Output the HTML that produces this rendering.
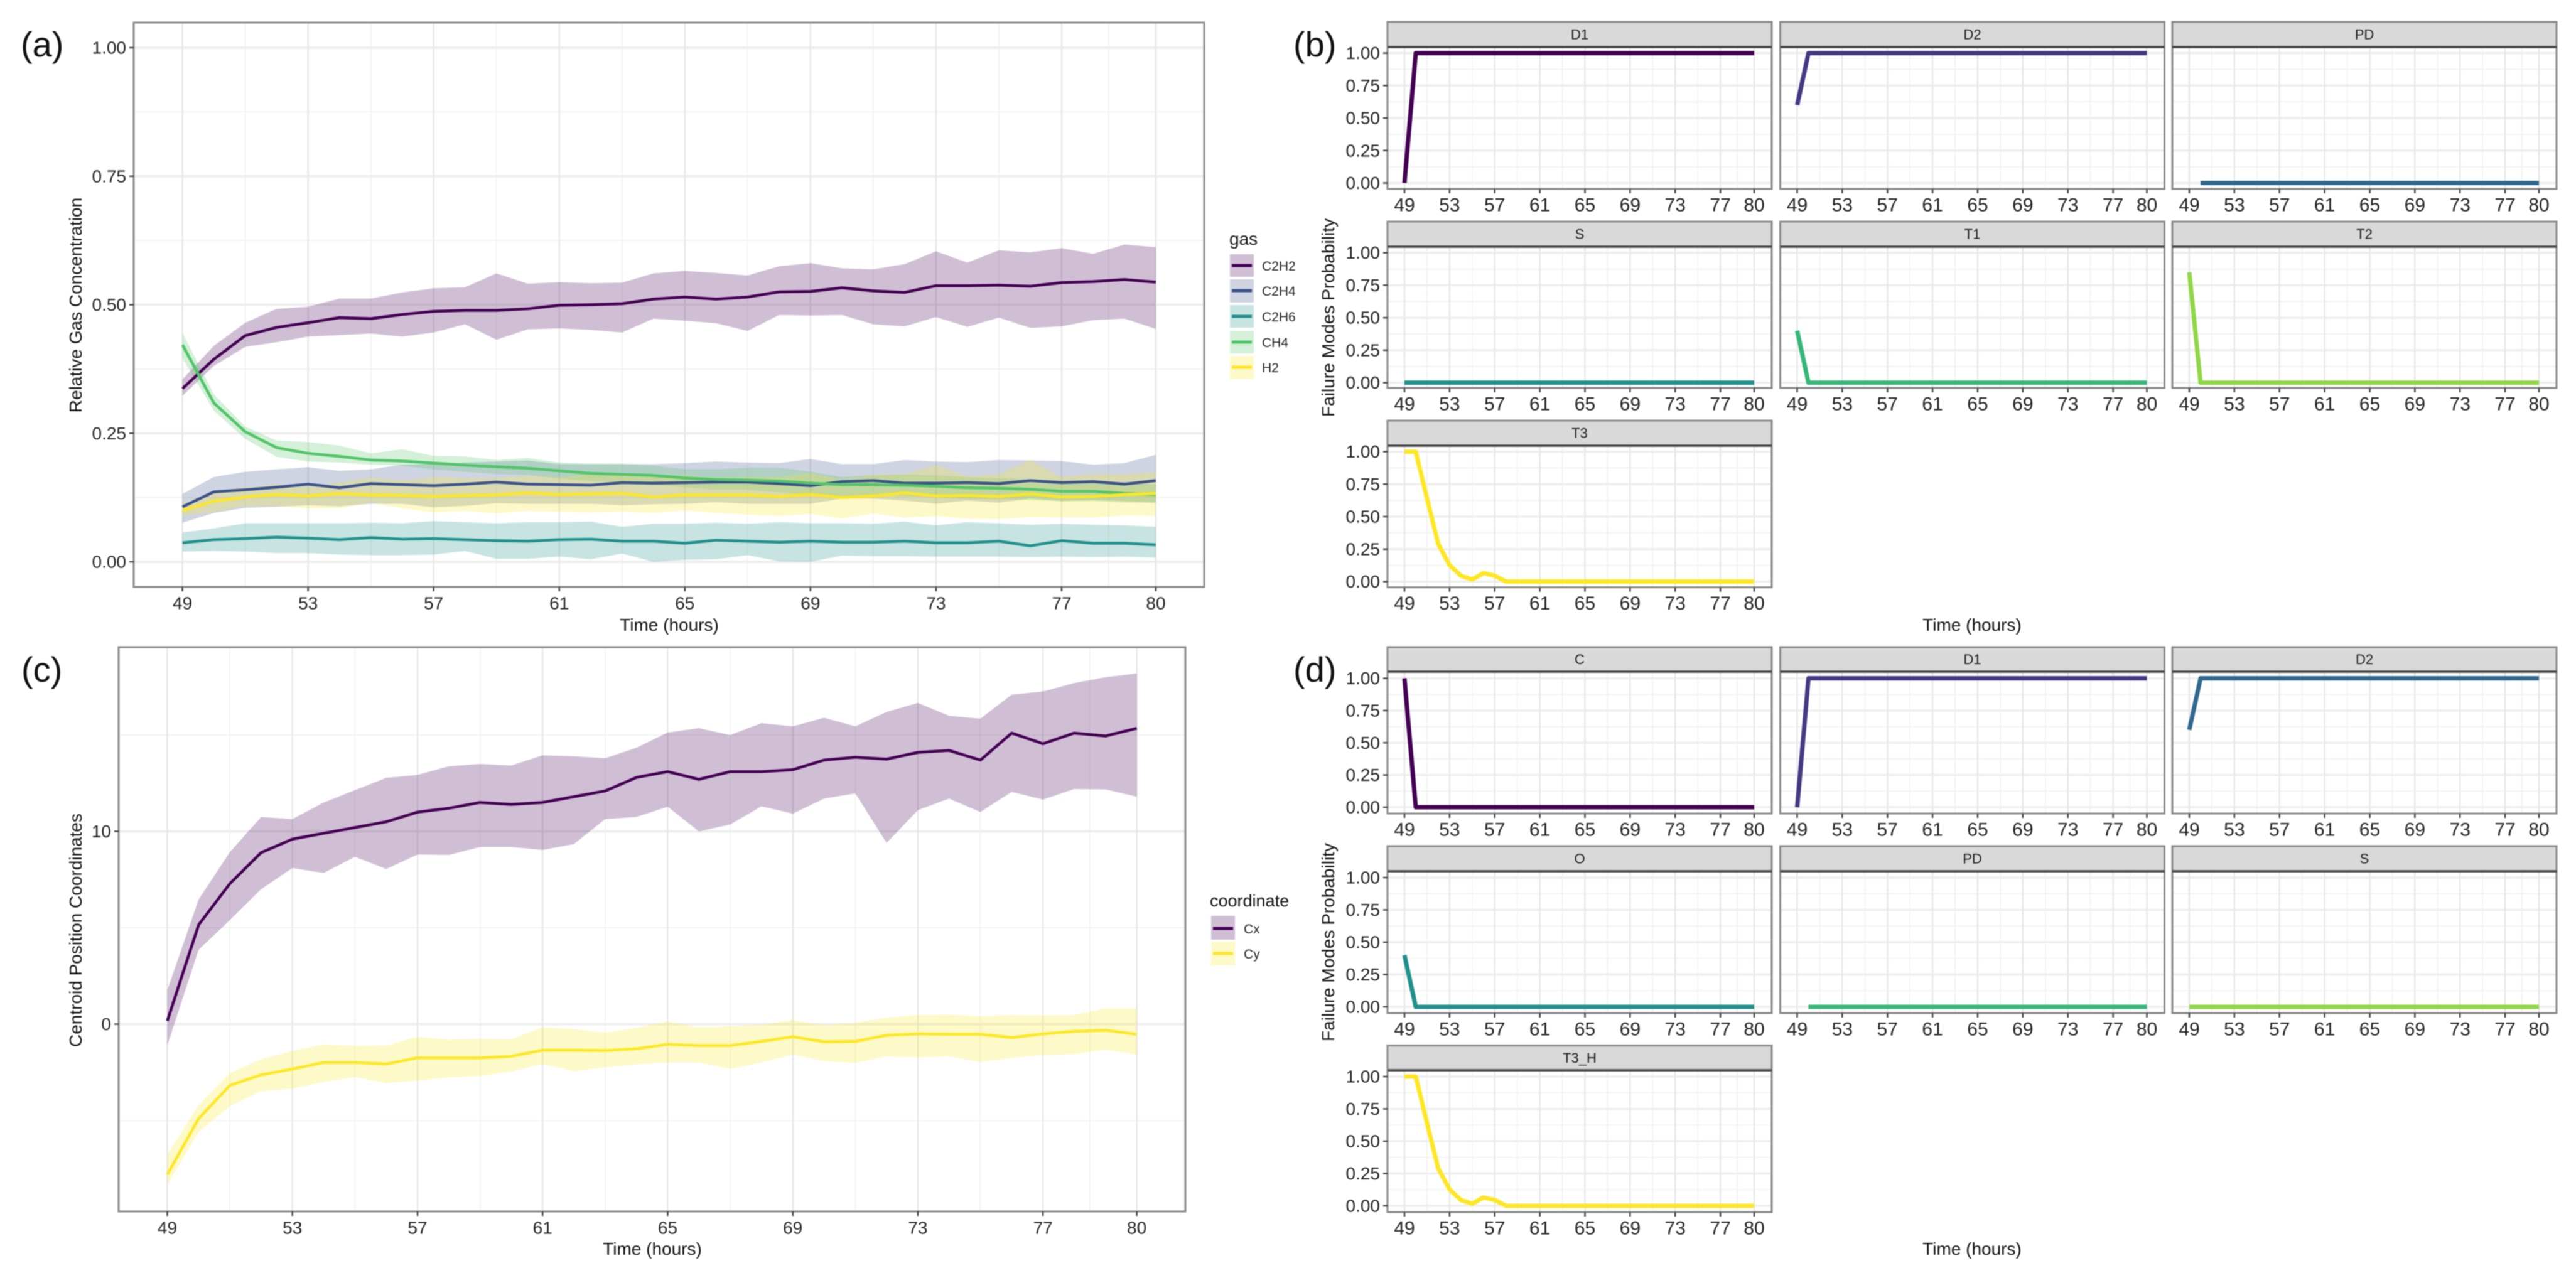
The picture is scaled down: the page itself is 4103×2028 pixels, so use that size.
<!DOCTYPE html>
<html lang="en">
<head>
<meta charset="utf-8">
<title>Gas concentration, centroid position and failure mode probability</title>
<style>
html,body{margin:0;padding:0;background:#fff;}
#figure{display:block;width:4103px;height:2028px;font-family:"Liberation Sans",sans-serif;filter:blur(0.7px);}
#figure text{font-family:"Liberation Sans",sans-serif;}
</style>
</head>
<body>
<svg id="figure" xmlns="http://www.w3.org/2000/svg" width="4103" height="2028" viewBox="0 0 4103 2028">
  <rect x="0" y="0" width="4103" height="2028" fill="#ffffff"/>
  <g id="layer"></g>

  <text x="33" y="90" font-size="56" fill="#111">(a)</text>
  <text x="2060" y="90" font-size="56" fill="#111">(b)</text>
  <text x="34" y="1086" font-size="56" fill="#111">(c)</text>
  <text x="2060" y="1086" font-size="56" fill="#111">(d)</text>

  <text x="1066" y="1005" font-size="28" text-anchor="middle" fill="#111">Time (hours)</text>
  <text transform="translate(130,486) rotate(-90)" font-size="28" text-anchor="middle" fill="#111">Relative Gas Concentration</text>
  <text x="1039" y="1999" font-size="28" text-anchor="middle" fill="#111">Time (hours)</text>
  <text transform="translate(130,1482) rotate(-90)" font-size="28" text-anchor="middle" fill="#111">Centroid Position Coordinates</text>
  <text x="3141" y="1005" font-size="28" text-anchor="middle" fill="#111">Time (hours)</text>
  <text transform="translate(2125,506) rotate(-90)" font-size="28" text-anchor="middle" fill="#111">Failure Modes Probability</text>
  <text x="3141" y="1999" font-size="28" text-anchor="middle" fill="#111">Time (hours)</text>
  <text transform="translate(2125,1501) rotate(-90)" font-size="28" text-anchor="middle" fill="#111">Failure Modes Probability</text>

  <g>
    <text x="1958" y="390" font-size="28" fill="#111">gas</text>
    <g>
      <rect x="1959" y="405" width="38" height="36" fill="#440154" fill-opacity="0.25"/>
      <line x1="1962" x2="1994" y1="423" y2="423" stroke="#440154" stroke-width="5"/>
      <text x="2010" y="431" font-size="21" fill="#222">C2H2</text>
    </g>
    <g>
      <rect x="1959" y="445" width="38" height="37" fill="#3B528B" fill-opacity="0.25"/>
      <line x1="1962" x2="1994" y1="463" y2="463" stroke="#3B528B" stroke-width="5"/>
      <text x="2010" y="471" font-size="21" fill="#222">C2H4</text>
    </g>
    <g>
      <rect x="1959" y="486" width="38" height="36" fill="#21908C" fill-opacity="0.25"/>
      <line x1="1962" x2="1994" y1="504" y2="504" stroke="#21908C" stroke-width="5"/>
      <text x="2010" y="512" font-size="21" fill="#222">C2H6</text>
    </g>
    <g>
      <rect x="1959" y="527" width="38" height="36" fill="#52C569" fill-opacity="0.25"/>
      <line x1="1962" x2="1994" y1="545" y2="545" stroke="#52C569" stroke-width="5"/>
      <text x="2010" y="553" font-size="21" fill="#222">CH4</text>
    </g>
    <g>
      <rect x="1959" y="567" width="38" height="37" fill="#FDE725" fill-opacity="0.25"/>
      <line x1="1962" x2="1994" y1="585" y2="585" stroke="#FDE725" stroke-width="5"/>
      <text x="2010" y="593" font-size="21" fill="#222">H2</text>
    </g>
  </g>

  <g>
    <text x="1927" y="1444" font-size="27" fill="#111">coordinate</text>
    <g>
      <rect x="1929" y="1459" width="38" height="38" fill="#440154" fill-opacity="0.25"/>
      <line x1="1932" x2="1964" y1="1479" y2="1479" stroke="#440154" stroke-width="5"/>
      <text x="1981" y="1487" font-size="21" fill="#222">Cx</text>
    </g>
    <g>
      <rect x="1929" y="1500" width="38" height="38" fill="#FDE725" fill-opacity="0.25"/>
      <line x1="1932" x2="1964" y1="1519" y2="1519" stroke="#FDE725" stroke-width="5"/>
      <text x="1981" y="1527" font-size="21" fill="#222">Cy</text>
    </g>
  </g>
</svg>

<script>
// ---------- shared axis data ----------
const hours = [49,50,51,52,53,54,55,56,57,58,59,60,61,62,63,64,65,66,67,68,69,70,71,72,73,74,75,76,77,78,79,80];
const xTickLabels = [49,53,57,61,65,69,73,77,80];
const xMinorBreaks = [51,55,59,63,67,71,75,78.5];
const probTicks = [0,0.25,0.5,0.75,1];
const probMinorBreaks = [0.125,0.375,0.625,0.875];
const centroidTicks = [0,10];
const centroidMinorBreaks = [-5,5,15];

// ---------- panel (a) gas concentration ----------
const c2h2Mean = [.337,.394,.44,.456,.465,.475,.473,.481,.487,.489,.489,.492,.499,.5,.502,.511,.515,.511,.515,.525,.526,.533,.527,.524,.537,.537,.538,.536,.543,.545,.549,.544];
const c2h2Upper = [.355,.42,.465,.492,.496,.512,.512,.524,.532,.534,.561,.541,.544,.542,.543,.561,.566,.562,.557,.575,.581,.571,.569,.579,.604,.582,.606,.602,.61,.599,.617,.612];
const c2h2Lower = [.323,.381,.418,.427,.438,.441,.444,.438,.446,.462,.432,.452,.454,.451,.446,.473,.469,.464,.449,.48,.479,.48,.462,.458,.476,.457,.475,.455,.458,.47,.473,.453];

const c2h4Mean = [.107,.136,.14,.145,.151,.144,.152,.15,.148,.151,.155,.151,.15,.149,.154,.153,.154,.155,.155,.152,.148,.156,.158,.153,.153,.154,.152,.158,.154,.156,.151,.158];
const c2h4Upper = [.132,.165,.175,.18,.184,.177,.18,.189,.19,.193,.195,.197,.19,.19,.19,.19,.192,.195,.193,.192,.2,.19,.19,.198,.195,.194,.198,.197,.196,.189,.192,.208];
const c2h4Lower = [.076,.095,.105,.107,.11,.108,.113,.113,.106,.109,.114,.113,.113,.113,.11,.112,.113,.116,.113,.113,.113,.123,.123,.119,.113,.119,.115,.123,.118,.12,.118,.115];

const c2h6Mean = [.037,.043,.045,.048,.046,.043,.047,.044,.045,.043,.041,.04,.043,.044,.04,.04,.036,.042,.04,.038,.04,.038,.038,.04,.037,.037,.04,.031,.041,.036,.036,.033];
const c2h6Upper = [.057,.065,.075,.075,.075,.075,.076,.075,.079,.077,.075,.077,.077,.078,.068,.074,.074,.076,.074,.077,.075,.075,.074,.078,.071,.077,.075,.072,.074,.072,.071,.068];
const c2h6Lower = [.02,.021,.02,.017,.017,.014,.013,.013,.014,.021,.006,.006,.01,.005,.016,0,.004,.005,.013,.001,0,.012,.011,.011,.01,.01,.01,.009,.01,.009,.01,.008];

const ch4Mean = [.422,.309,.253,.222,.211,.205,.198,.196,.192,.188,.185,.182,.177,.172,.17,.168,.163,.16,.159,.157,.153,.15,.15,.149,.147,.144,.143,.141,.137,.137,.133,.131];
const ch4Upper = [.445,.326,.263,.236,.233,.226,.211,.219,.206,.205,.198,.202,.193,.191,.191,.187,.18,.18,.183,.183,.175,.165,.168,.17,.168,.165,.163,.16,.158,.155,.155,.15];
const ch4Lower = [.396,.294,.239,.204,.195,.193,.189,.187,.18,.175,.171,.169,.162,.157,.155,.15,.145,.14,.14,.135,.13,.128,.13,.128,.125,.122,.122,.12,.118,.118,.115,.115];

const h2Mean = [.1,.118,.126,.131,.128,.133,.13,.129,.127,.129,.13,.134,.131,.132,.133,.126,.13,.13,.13,.127,.131,.125,.128,.134,.128,.129,.127,.132,.126,.127,.131,.133];
const h2Upper = [.113,.137,.145,.15,.147,.154,.164,.158,.165,.163,.163,.167,.165,.17,.17,.168,.168,.163,.165,.165,.173,.16,.169,.171,.188,.166,.171,.198,.165,.171,.17,.175];
const h2Lower = [.089,.097,.108,.108,.104,.104,.115,.104,.096,.099,.094,.099,.097,.096,.097,.095,.1,.095,.092,.089,.093,.084,.094,.086,.089,.084,.083,.087,.086,.086,.09,.089];

// ---------- panel (c) centroid ----------
const cxMean = [.17,5.15,7.29,8.9,9.6,9.9,10.2,10.5,11,11.2,11.5,11.4,11.5,11.8,12.1,12.8,13.1,12.7,13.1,13.1,13.2,13.7,13.85,13.75,14.1,14.2,13.7,15.1,14.55,15.1,14.95,15.35];
const cxUpper = [1.77,6.47,8.93,10.75,10.64,11.5,12.14,12.78,12.93,13.38,13.5,13.42,13.95,13.9,13.8,14.34,15.13,15.36,15,15.62,15.45,15.9,15.45,16.2,16.67,16,15.85,17.1,17.26,17.7,18,18.2];
const cxLower = [-1.1,3.85,5.4,7,8.1,7.84,8.68,8.05,8.8,8.78,9.19,9.19,9.04,9.34,10.64,10.75,11.28,10,10.36,11.3,10.92,11.7,11.97,9.4,11.1,11.7,11,12.05,11.65,12.2,12.18,11.8];

const cyMean = [-7.8,-4.9,-3.18,-2.63,-2.33,-1.99,-1.99,-2.07,-1.75,-1.75,-1.75,-1.67,-1.35,-1.35,-1.37,-1.28,-1.05,-1.11,-1.11,-.9,-.66,-.92,-.9,-.58,-.51,-.53,-.53,-.7,-.51,-.38,-.32,-.53];
const cyUpper = [-6.77,-4.2,-2.54,-1.82,-1.39,-1.05,-1.13,-1.11,-.66,-.81,-.77,-.79,-.17,-.26,-.45,-.19,.13,-.17,-.11,-.04,.21,-.06,.06,.34,.47,.49,.41,.47,.45,.47,.81,.81];
const cyLower = [-8.33,-5.6,-4.25,-3.48,-3.35,-3,-2.74,-3.06,-2.93,-2.76,-2.69,-2.46,-2.07,-2.44,-2.24,-2.09,-1.99,-1.99,-2.33,-1.99,-1.58,-1.92,-2.01,-1.67,-1.73,-1.67,-1.97,-1.75,-1.6,-1.56,-1.32,-1.58];

// ---------- panel (b) failure modes ----------
const bD1 = [0,1,1,1,1,1,1,1,1,1, 1,1,1,1,1,1,1,1,1,1, 1,1,1,1,1,1,1,1,1,1, 1,1];
const bD2 = [.6,1,1,1,1,1,1,1,1,1, 1,1,1,1,1,1,1,1,1,1, 1,1,1,1,1,1,1,1,1,1, 1,1];
const bPD = [null,0,0,0,0,0,0,0,0,0, 0,0,0,0,0,0,0,0,0,0, 0,0,0,0,0,0,0,0,0,0, 0,0];
const bS  = [0,0,0,0,0,0,0,0,0,0, 0,0,0,0,0,0,0,0,0,0, 0,0,0,0,0,0,0,0,0,0, 0,0];
const bT1 = [.4,0,0,0,0,0,0,0,0,0, 0,0,0,0,0,0,0,0,0,0, 0,0,0,0,0,0,0,0,0,0, 0,0];
const bT2 = [.85,0,0,0,0,0,0,0,0,0, 0,0,0,0,0,0,0,0,0,0, 0,0,0,0,0,0,0,0,0,0, 0,0];
const bT3 = [1,1,.64,.288,.126,.045,.016,.065,.045,0, 0,0,0,0,0,0,0,0,0,0, 0,0,0,0,0,0,0,0,0,0, 0,0];

// ---------- panel (d) failure modes ----------
const dC  = [1,0,0,0,0,0,0,0,0,0, 0,0,0,0,0,0,0,0,0,0, 0,0,0,0,0,0,0,0,0,0, 0,0];
const dD1 = [0,1,1,1,1,1,1,1,1,1, 1,1,1,1,1,1,1,1,1,1, 1,1,1,1,1,1,1,1,1,1, 1,1];
const dD2 = [.6,1,1,1,1,1,1,1,1,1, 1,1,1,1,1,1,1,1,1,1, 1,1,1,1,1,1,1,1,1,1, 1,1];
const dO  = [.4,0,0,0,0,0,0,0,0,0, 0,0,0,0,0,0,0,0,0,0, 0,0,0,0,0,0,0,0,0,0, 0,0];
const dPD = [null,0,0,0,0,0,0,0,0,0, 0,0,0,0,0,0,0,0,0,0, 0,0,0,0,0,0,0,0,0,0, 0,0];
const dS  = [0,0,0,0,0,0,0,0,0,0, 0,0,0,0,0,0,0,0,0,0, 0,0,0,0,0,0,0,0,0,0, 0,0];
const dT3H = [1,1,.64,.288,.126,.045,.016,.065,.045,0, 0,0,0,0,0,0,0,0,0,0, 0,0,0,0,0,0,0,0,0,0, 0,0];

const NS = 'http://www.w3.org/2000/svg';
const layer = document.getElementById('layer');

function make(parent, tag, attrs, name) {
  const el = document.createElementNS(NS, tag);
  for (const k in attrs) el.setAttribute(k, attrs[k]);
  
  
  parent.appendChild(el);
  return el;
}

function label(parent, x, y, str, size, anchor, fill, name) {
  const t = make(parent, 'text', {x: x, y: y, 'font-size': size, 'text-anchor': anchor, fill: fill, 'dominant-baseline': 'central'}, name);
  t.textContent = str;
  return t;
}

function linePath(xs, ys) {
  let d = '';
  let pen = false;
  for (let i = 0; i < xs.length; i++) {
    if (ys[i] === null) { pen = false; continue; }
    d += (pen ? 'L' : 'M') + xs[i].toFixed(2) + ' ' + ys[i].toFixed(2);
    pen = true;
  }
  return d;
}

function ribbonPath(xs, up, low) {
  let d = '';
  for (let i = 0; i < xs.length; i++) d += (i ? 'L' : 'M') + xs[i].toFixed(2) + ' ' + up[i].toFixed(2);
  for (let i = xs.length - 1; i >= 0; i--) d += 'L' + xs[i].toFixed(2) + ' ' + low[i].toFixed(2);
  return d + 'Z';
}

function drawGrid(g, box, xScale, yScale, yMajor, yMinor, st) {
  yMinor.forEach(function (v) {
    make(g, 'line', {x1: box.l, x2: box.r, y1: yScale(v), y2: yScale(v), stroke: '#f3f3f3', 'stroke-width': st.hMinor}, 'grid-minor-y');
  });
  xMinorBreaks.forEach(function (h) {
    make(g, 'line', {x1: xScale(h), x2: xScale(h), y1: box.t, y2: box.b, stroke: '#f0f0f0', 'stroke-width': st.vMinor}, 'grid-minor-x');
  });
  yMajor.forEach(function (v) {
    make(g, 'line', {x1: box.l, x2: box.r, y1: yScale(v), y2: yScale(v), stroke: '#eeeeee', 'stroke-width': st.hMajor}, 'grid-major-y');
  });
  xTickLabels.forEach(function (h) {
    make(g, 'line', {x1: xScale(h), x2: xScale(h), y1: box.t, y2: box.b, stroke: '#e8e8e8', 'stroke-width': st.vMajor}, 'grid-major-x');
  });
}

function drawAxes(g, box, xScale, yScale, yTicks, fmt, xSize, showY) {
  make(g, 'rect', {x: box.l, y: box.t, width: box.r - box.l, height: box.b - box.t, fill: 'none', stroke: '#8a8a8a', 'stroke-width': 3}, 'panel-border');
  xTickLabels.forEach(function (h) {
    make(g, 'line', {x1: xScale(h), x2: xScale(h), y1: box.b, y2: box.b + 7, stroke: '#444', 'stroke-width': 2.5}, 'x-tick');
    label(g, xScale(h), box.b + 26, String(h), xSize, 'middle', '#222', 'x-tick-label');
  });
  if (!showY) return;
  yTicks.forEach(function (v) {
    make(g, 'line', {x1: box.l - 7, x2: box.l, y1: yScale(v), y2: yScale(v), stroke: '#444', 'stroke-width': 2.5}, 'y-tick');
    label(g, box.l - 12, yScale(v), fmt(v), 28, 'end', '#222', 'y-tick-label');
  });
}

function drawRibbonChart(cfg, seriesList) {
  const g = make(layer, 'g', {}, cfg.name);
  const xScale = function (h) { return cfg.x0 + (h - 49) * (cfg.x1 - cfg.x0) / 31; };
  const yScale = function (v) { return cfg.yBase - (v - cfg.vBase) * cfg.yUnit; };
  make(g, 'rect', {x: cfg.box.l, y: cfg.box.t, width: cfg.box.r - cfg.box.l, height: cfg.box.b - cfg.box.t, fill: '#fff'}, 'plot-background');
  drawGrid(g, cfg.box, xScale, yScale, cfg.yMajor, cfg.yMinor, {hMajor: 4, hMinor: 2, vMajor: 2.5, vMinor: 1.5});
  const xs = hours.map(xScale);
  seriesList.forEach(function (s) {
    make(g, 'path', {d: ribbonPath(xs, s.upper.map(yScale), s.lower.map(yScale)), fill: s.color, 'fill-opacity': 0.25}, 'ribbon-' + s.key);
  });
  seriesList.forEach(function (s) {
    make(g, 'path', {d: linePath(xs, s.mean.map(yScale)), fill: 'none', stroke: s.color, 'stroke-width': cfg.lineWidth, 'stroke-linejoin': 'round'}, 'line-' + s.key);
  });
  drawAxes(g, cfg.box, xScale, yScale, cfg.yMajor, cfg.fmt, 28, true);
}

function drawFacet(name, strip, left, row, values, color, showY) {
  const g = make(layer, 'g', {}, name);
  const box = {l: left, r: left + 612, t: row.panelTop, b: row.bottom};
  const xScale = function (h) { return left + 27 + (h - 49) * 557 / 31; };
  const yScale = function (v) { return row.y0 - v * (row.y0 - row.y1); };
  drawGrid(g, box, xScale, yScale, probTicks, probMinorBreaks, {hMajor: 3.5, hMinor: 2, vMajor: 2.5, vMinor: 1.5});
  const xs = hours.map(xScale);
  const ys = values.map(function (v) { return v === null ? null : yScale(v); });
  make(g, 'path', {d: linePath(xs, ys), fill: 'none', stroke: color, 'stroke-width': 7, 'stroke-linejoin': 'round'}, 'line-' + strip.toLowerCase());
  drawAxes(g, box, xScale, yScale, probTicks, function (v) { return v.toFixed(2); }, 30, showY);
  make(g, 'rect', {x: left, y: row.stripTop, width: 612, height: row.panelTop - row.stripTop, fill: '#d9d9d9', stroke: '#8a8a8a', 'stroke-width': 3}, 'strip-background');
  make(g, 'line', {x1: left, x2: left + 612, y1: row.panelTop, y2: row.panelTop, stroke: '#444', 'stroke-width': 3.5}, 'strip-rule');
  label(g, left + 306, (row.stripTop + row.panelTop) / 2, strip, 22, 'middle', '#1f1f1f', 'strip-label-' + strip.toLowerCase());
}

drawRibbonChart({
  name: 'gas-concentration-chart',
  box: {l: 213, r: 1918, t: 36, b: 935},
  x0: 290.6, x1: 1841,
  yBase: 895, vBase: 0, yUnit: 819,
  yMajor: probTicks, yMinor: probMinorBreaks,
  lineWidth: 4.5,
  fmt: function (v) { return v.toFixed(2); }
}, [
  {key: 'c2h2', color: '#440154', mean: c2h2Mean, upper: c2h2Upper, lower: c2h2Lower},
  {key: 'c2h4', color: '#3B528B', mean: c2h4Mean, upper: c2h4Upper, lower: c2h4Lower},
  {key: 'c2h6', color: '#21908C', mean: c2h6Mean, upper: c2h6Upper, lower: c2h6Lower},
  {key: 'ch4', color: '#52C569', mean: ch4Mean, upper: ch4Upper, lower: ch4Lower},
  {key: 'h2', color: '#FDE725', mean: h2Mean, upper: h2Upper, lower: h2Lower}
]);

drawRibbonChart({
  name: 'centroid-position-chart',
  box: {l: 189, r: 1888, t: 1031, b: 1930},
  x0: 266.5, x1: 1810.6,
  yBase: 1631.5, vBase: 0, yUnit: 30.7,
  yMajor: centroidTicks, yMinor: centroidMinorBreaks,
  lineWidth: 4.5,
  fmt: function (v) { return String(v); }
}, [
  {key: 'cx', color: '#440154', mean: cxMean, upper: cxUpper, lower: cxLower},
  {key: 'cy', color: '#FDE725', mean: cyMean, upper: cyUpper, lower: cyLower}
]);

const facetColumns = [2210, 2835.5, 3460];
const rowsB = [
  {stripTop: 35, panelTop: 75, y1: 84.6, y0: 291.5, bottom: 301},
  {stripTop: 353, panelTop: 393, y1: 402.7, y0: 609.6, bottom: 618},
  {stripTop: 670, panelTop: 710, y1: 719.6, y0: 926.5, bottom: 935.6}
];
const rowsD = [
  {stripTop: 1031, panelTop: 1070, y1: 1080.6, y0: 1286, bottom: 1296},
  {stripTop: 1348, panelTop: 1388, y1: 1398, y0: 1604, bottom: 1614},
  {stripTop: 1665.6, panelTop: 1705, y1: 1715, y0: 1921, bottom: 1931}
];

drawFacet('facet-b-d1', 'D1', facetColumns[0], rowsB[0], bD1, '#440154', true);
drawFacet('facet-b-d2', 'D2', facetColumns[1], rowsB[0], bD2, '#443A83', false);
drawFacet('facet-b-pd', 'PD', facetColumns[2], rowsB[0], bPD, '#31688E', false);
drawFacet('facet-b-s', 'S', facetColumns[0], rowsB[1], bS, '#21908C', true);
drawFacet('facet-b-t1', 'T1', facetColumns[1], rowsB[1], bT1, '#35B779', false);
drawFacet('facet-b-t2', 'T2', facetColumns[2], rowsB[1], bT2, '#8FD744', false);
drawFacet('facet-b-t3', 'T3', facetColumns[0], rowsB[2], bT3, '#FDE725', true);

drawFacet('facet-d-c', 'C', facetColumns[0], rowsD[0], dC, '#440154', true);
drawFacet('facet-d-d1', 'D1', facetColumns[1], rowsD[0], dD1, '#443A83', false);
drawFacet('facet-d-d2', 'D2', facetColumns[2], rowsD[0], dD2, '#31688E', false);
drawFacet('facet-d-o', 'O', facetColumns[0], rowsD[1], dO, '#21908C', true);
drawFacet('facet-d-pd', 'PD', facetColumns[1], rowsD[1], dPD, '#35B779', false);
drawFacet('facet-d-s', 'S', facetColumns[2], rowsD[1], dS, '#8FD744', false);
drawFacet('facet-d-t3-h', 'T3_H', facetColumns[0], rowsD[2], dT3H, '#FDE725', true);
</script>
</body>
</html>
